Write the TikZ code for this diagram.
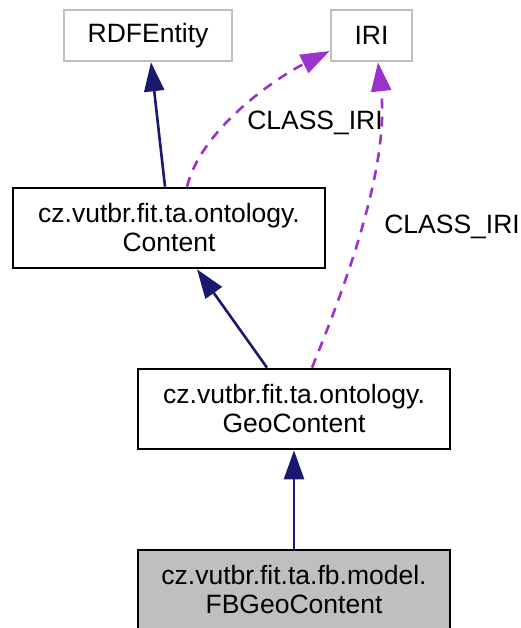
\documentclass[tikz,border=0pt]{standalone}
\usepackage{fontspec}
\setmainfont{Liberation Sans}
\usetikzlibrary{arrows.meta}
\definecolor{navy}{HTML}{191970}
\definecolor{orchid}{HTML}{9A32CD}
\definecolor{extgray}{HTML}{BFBFBF}
\begin{document}
\begin{tikzpicture}[x=1pt,y=-1pt,line width=2.6pt,align=center,font=\fontsize{26.5}{29}\selectfont]
\tikzstyle{cls}=[draw=black,minimum width=312pt,minimum height=80pt,inner sep=0pt]
\tikzstyle{ext}=[draw=extgray,minimum height=51pt,inner sep=0pt]
\tikzstyle{current}=[cls,fill=extgray]
\tikzstyle{inherit}=[-{Triangle[length=29pt,width=20pt]},navy]
\tikzstyle{usage}=[-{Triangle[length=29pt,width=20pt]},orchid,dash pattern=on 10pt off 8pt]

\useasboundingbox (0,0) rectangle (520,628);

\node[ext,minimum width=168pt] (rdf) at (148,35.5) {RDFEntity};
\node[ext,minimum width=81pt] (iri) at (371.5,35.5) {IRI};
\node[cls] (content) at (169,228) {cz.vutbr.fit.ta.ontology.\\Content};
\node[cls] (geo) at (294,409) {cz.vutbr.fit.ta.ontology.\\GeoContent};
\node[current] (fbgeo) at (294,590) {cz.vutbr.fit.ta.fb.model.\\FBGeoContent};

\draw[inherit] ([xshift=-4pt]content.north) -- ([xshift=3pt]rdf.south);
\draw[inherit] ([xshift=-27pt]geo.north) -- ([xshift=28pt]content.south);
\draw[inherit] (fbgeo) -- (geo);

\draw[usage] ([xshift=18pt]content.north) .. controls +(15,-60) and +(-50,25) .. ([yshift=-15.5pt]iri.west);
\draw[usage] ([xshift=18pt]geo.north) .. controls +(28,-69) and +(12,109) .. ([xshift=6.5pt]iri.south);
\node (lbl1) at (315,123) {CLASS\_IRI};
\node[anchor=west,inner sep=0pt] (lbl2) at (383,227) {CLASS\_IRI};
\end{tikzpicture}
\end{document}
